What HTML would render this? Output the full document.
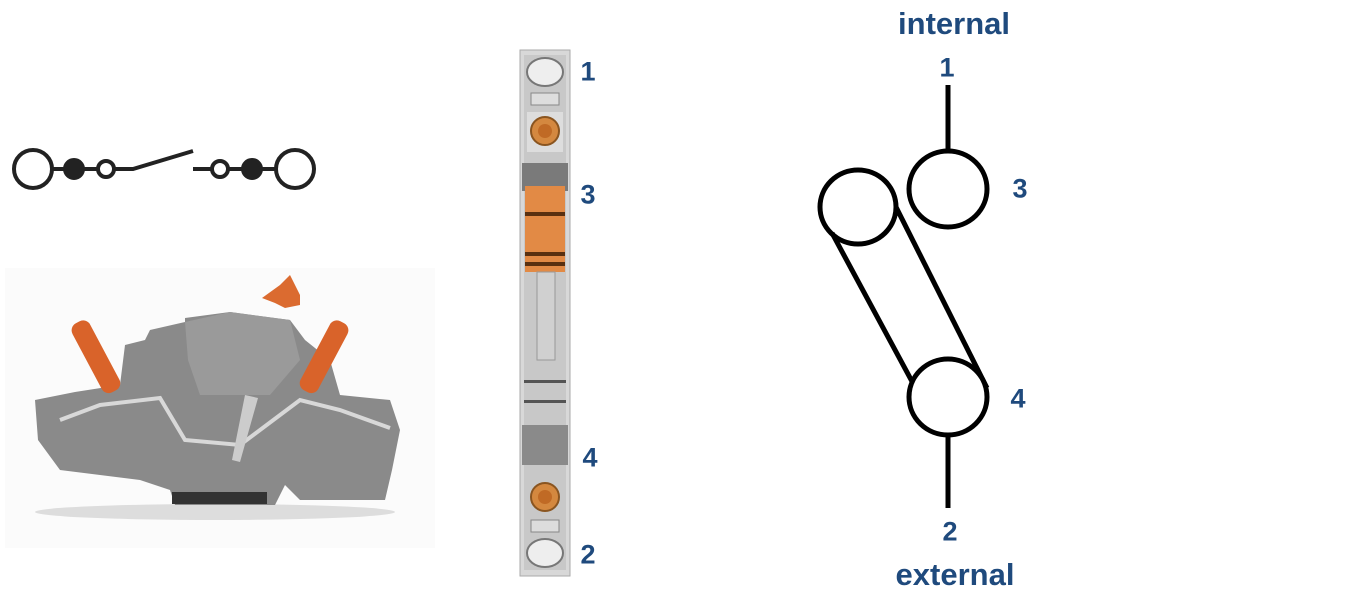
<!DOCTYPE html>
<html><head><style>
body{margin:0;background:#fff;width:1349px;height:605px;overflow:hidden;position:relative;font-family:"Liberation Sans",sans-serif}
.t{position:absolute;color:#1f4a7d;font-weight:bold;font-size:27px;transform:translate(-50%,-50%);white-space:nowrap}
.w{font-size:31px}
</style></head><body>
<svg width="1349" height="605" style="position:absolute;left:0;top:0">
<g stroke="#222" stroke-width="4" fill="none">
<circle cx="33" cy="169" r="19"/>
<line x1="52" y1="169" x2="98" y2="169"/>
<circle cx="74" cy="169" r="9" fill="#222"/>
<circle cx="106" cy="169" r="8" fill="#fff"/>
<polyline points="114,169 133,169 193,151"/>
<line x1="193" y1="169" x2="212" y2="169"/>
<circle cx="220" cy="169" r="8" fill="#fff"/>
<line x1="228" y1="169" x2="276" y2="169"/>
<circle cx="252" cy="169" r="9" fill="#222"/>
<circle cx="295" cy="169" r="19"/>
</g>
<rect x="5" y="268" width="430" height="280" fill="#fbfbfb"/>
<ellipse cx="215" cy="512" rx="180" ry="8" fill="#ddd"/>
<path d="M35,400 L75,392 L120,385 L125,345 L145,340 L150,330 L185,322 L185,318 L230,312 L290,320 L305,340 L330,360 L340,395 L390,400 L400,430 L392,470 L385,500 L300,500 L285,485 L275,505 L175,505 L170,490 L140,480 L60,470 L38,440 Z" fill="#8a8a8a"/>
<path d="M185,322 L230,312 L290,320 L300,360 L270,395 L200,395 L188,360Z" fill="#9a9a9a"/>
<polyline points="60,420 100,405 160,398 185,440 240,445 300,400 340,410 390,428" stroke="#d8d8d8" stroke-width="4" fill="none"/>
<polygon points="245,395 258,398 240,462 232,460" fill="#ccc"/>
<rect x="172" y="492" width="95" height="12" fill="#333"/>
<g transform="rotate(-28 95 355)"><rect x="85" y="318" width="20" height="78" rx="8" fill="#d9632a"/></g>
<g transform="rotate(28 325 355)"><rect x="315" y="318" width="20" height="78" rx="8" fill="#d9632a"/></g>
<polygon points="262,298 280,285 290,275 300,295 300,305 285,308 275,303" fill="#db6b30"/>
<rect x="520" y="50" width="50" height="526" fill="#d8d8d8" stroke="#aaa"/>
<rect x="524" y="55" width="42" height="515" fill="#c8c8c8"/>
<ellipse cx="545" cy="72" rx="18" ry="14" fill="#eee" stroke="#777" stroke-width="2"/>
<rect x="531" y="93" width="28" height="12" fill="#ddd" stroke="#888"/>
<rect x="527" y="112" width="36" height="40" fill="#ddd"/>
<circle cx="545" cy="131" r="14" fill="#d4883f" stroke="#8a5520" stroke-width="2"/>
<circle cx="545" cy="131" r="7" fill="#c06a25"/>
<rect x="522" y="163" width="46" height="28" fill="#7a7a7a"/>
<rect x="525" y="186" width="40" height="86" fill="#e28a45"/>
<rect x="525" y="212" width="40" height="4" fill="#5a3010"/>
<rect x="525" y="252" width="40" height="4" fill="#5a3010"/>
<rect x="525" y="262" width="40" height="4" fill="#5a3010"/>
<rect x="537" y="272" width="18" height="88" fill="#d0d0d0" stroke="#999"/>
<rect x="524" y="380" width="42" height="3" fill="#555"/>
<rect x="524" y="400" width="42" height="3" fill="#555"/>
<rect x="522" y="425" width="46" height="40" fill="#8a8a8a"/>
<circle cx="545" cy="497" r="14" fill="#d4883f" stroke="#8a5520" stroke-width="2"/>
<circle cx="545" cy="497" r="7" fill="#c06a25"/>
<rect x="531" y="520" width="28" height="12" fill="#ddd" stroke="#888"/>
<ellipse cx="545" cy="553" rx="18" ry="14" fill="#eee" stroke="#777" stroke-width="2"/>
<g stroke="#000" stroke-width="5" fill="none">
<line x1="948" y1="85" x2="948" y2="151"/>
<ellipse cx="948" cy="189" rx="39" ry="38" />
<ellipse cx="858" cy="207" rx="38" ry="37"/>
<line x1="832" y1="233" x2="915" y2="387"/>
<line x1="896" y1="207" x2="987" y2="388"/>
<ellipse cx="948" cy="397" rx="39" ry="38" fill="#fff"/>
<line x1="948" y1="435" x2="948" y2="508"/>
</g>
</svg>
<div class="t w" style="left:954px;top:24px">internal</div>
<div class="t" style="left:947px;top:68px">1</div>
<div class="t" style="left:1020px;top:189px">3</div>
<div class="t" style="left:1018px;top:399px">4</div>
<div class="t" style="left:950px;top:532px">2</div>
<div class="t w" style="left:955px;top:575px">external</div>
<div class="t" style="left:588px;top:72px">1</div>
<div class="t" style="left:588px;top:195px">3</div>
<div class="t" style="left:590px;top:458px">4</div>
<div class="t" style="left:588px;top:555px">2</div>
</body></html>
